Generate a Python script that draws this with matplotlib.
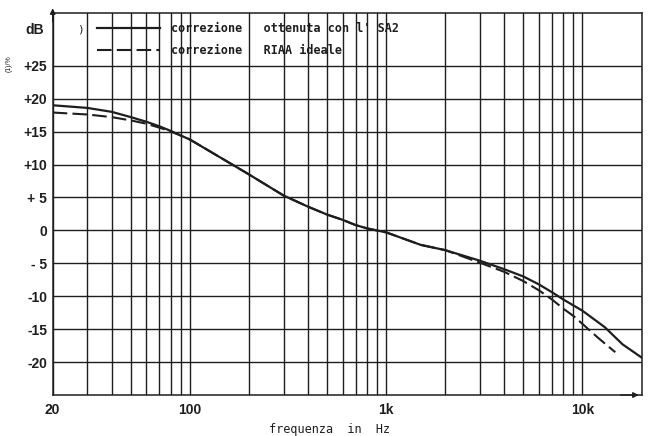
import matplotlib
matplotlib.use("Agg")
import matplotlib.pyplot as plt
from matplotlib.ticker import FixedLocator, NullFormatter

# frequency (Hz) and gain (dB)
freq_sa2 = [20, 30, 40, 50, 60, 70, 80, 90, 100, 150, 200, 300, 400, 500, 600, 700, 800,
            1000, 1500, 2000, 3000, 4000, 5000, 6000, 7000, 8000, 9000, 10000, 13000, 16000, 20000]
db_sa2 = [19.0, 18.6, 18.0, 17.2, 16.5, 15.8, 15.1, 14.4, 13.8, 10.7, 8.5, 5.3, 3.6, 2.4, 1.6, 0.8, 0.3,
          -0.3, -2.2, -3.0, -4.6, -5.9, -7.0, -8.2, -9.4, -10.5, -11.4, -12.2, -14.7, -17.3, -19.3]

freq_riaa = [20, 30, 40, 50, 60, 70, 80, 90, 100, 150, 200, 300, 400, 500, 600, 700, 800,
             1000, 1500, 2000, 3000, 4000, 5000, 6000, 7000, 8000, 9000, 10000, 12000, 14700]
db_riaa = [17.9, 17.6, 17.2, 16.7, 16.2, 15.6, 15.0, 14.4, 13.8, 10.7, 8.5, 5.3, 3.6, 2.4, 1.6, 0.8, 0.3,
           -0.3, -2.2, -3.0, -4.9, -6.3, -7.7, -9.1, -10.5, -11.9, -13.0, -14.2, -16.3, -18.5]

x_major = [20, 100, 1000, 10000]
x_major_labels = ["20", "100", "1k", "10k"]
x_minor = [30, 40, 50, 60, 70, 80, 90, 200, 300, 400, 500, 600, 700, 800, 900,
           2000, 3000, 4000, 5000, 6000, 7000, 8000, 9000]
y_ticks = [25, 20, 15, 10, 5, 0, -5, -10, -15, -20]
y_labels = ["+25", "+20", "+15", "+10", "+ 5", "0", "- 5", "-10", "-15", "-20"]

ink = "#1e1e1e"
lbl_font = ["Liberation Sans", "DejaVu Sans"]
mono = ["DejaVu Sans Mono"]

fig = plt.figure(figsize=(6.48, 4.36), dpi=100)
ax = fig.add_axes([0.0813, 0.094, 0.9087, 0.876])

ax.set_xscale("log")
ax.set_xlim(20, 20000)
ax.set_ylim(-25, 33)

ax.xaxis.set_major_locator(FixedLocator(x_major))
ax.xaxis.set_minor_locator(FixedLocator(x_minor))
ax.xaxis.set_minor_formatter(NullFormatter())
ax.set_xticklabels(x_major_labels)
ax.set_yticks(y_ticks)
ax.set_yticklabels(y_labels)
ax.tick_params(which="both", length=0, colors=ink, labelsize=10)
ax.tick_params(axis="y", pad=4)
ax.tick_params(axis="x", pad=6)
for t in ax.get_xticklabels() + ax.get_yticklabels():
    t.set_family(lbl_font)
    t.set_fontweight("bold")

ax.grid(True, which="both", axis="x", color=ink, lw=1.0)
ax.grid(True, which="major", axis="y", color=ink, lw=1.0)
ax.set_axisbelow(True)
for s in ax.spines.values():
    s.set_color(ink)
    s.set_linewidth(1.1)

ax.plot(freq_sa2, db_sa2, color=ink, lw=1.6, label="correzione   ottenuta con l' SA2")
ax.plot(freq_riaa, db_riaa, color=ink, lw=1.5, dashes=(7, 2.5), label="correzione   RIAA ideale")

leg = fig.legend(loc="upper left", bbox_to_anchor=(97 / 648, 1 - 22 / 436), frameon=False,
                 borderaxespad=0, borderpad=0, handlelength=5.3, handletextpad=1.0,
                 labelspacing=0.75, prop={"family": mono, "size": 8.5, "weight": "bold"})
for t in leg.get_texts():
    t.set_color(ink)

# axis arrows
ax.annotate("", xy=(0, 1.02), xytext=(0, 0.97), xycoords="axes fraction",
            arrowprops=dict(arrowstyle="-|>", color=ink, lw=1.0, mutation_scale=8), annotation_clip=False)
ax.annotate("", xy=(1.0, 0), xytext=(0.96, 0), xycoords="axes fraction",
            arrowprops=dict(arrowstyle="-|>", color=ink, lw=1.0, mutation_scale=8), annotation_clip=False)

fig.text(35 / 648, 1 - 30 / 436, "dB", ha="center", va="center", fontsize=10,
         fontweight="bold", family=lbl_font, color=ink)
fig.text(80 / 648, 1 - 30 / 436, ")", ha="center", va="center", fontsize=8, color=ink)
fig.text(9 / 648, 1 - 64 / 436, "(1)/%", ha="center", va="center", fontsize=5,
         rotation=90, family=lbl_font, color=ink)
fig.text(330 / 648, 1 - 429 / 436, "frequenza  in  Hz", ha="center", va="center",
         fontsize=8.5, family=mono, color=ink)

fig.savefig("out.png", dpi=100)
